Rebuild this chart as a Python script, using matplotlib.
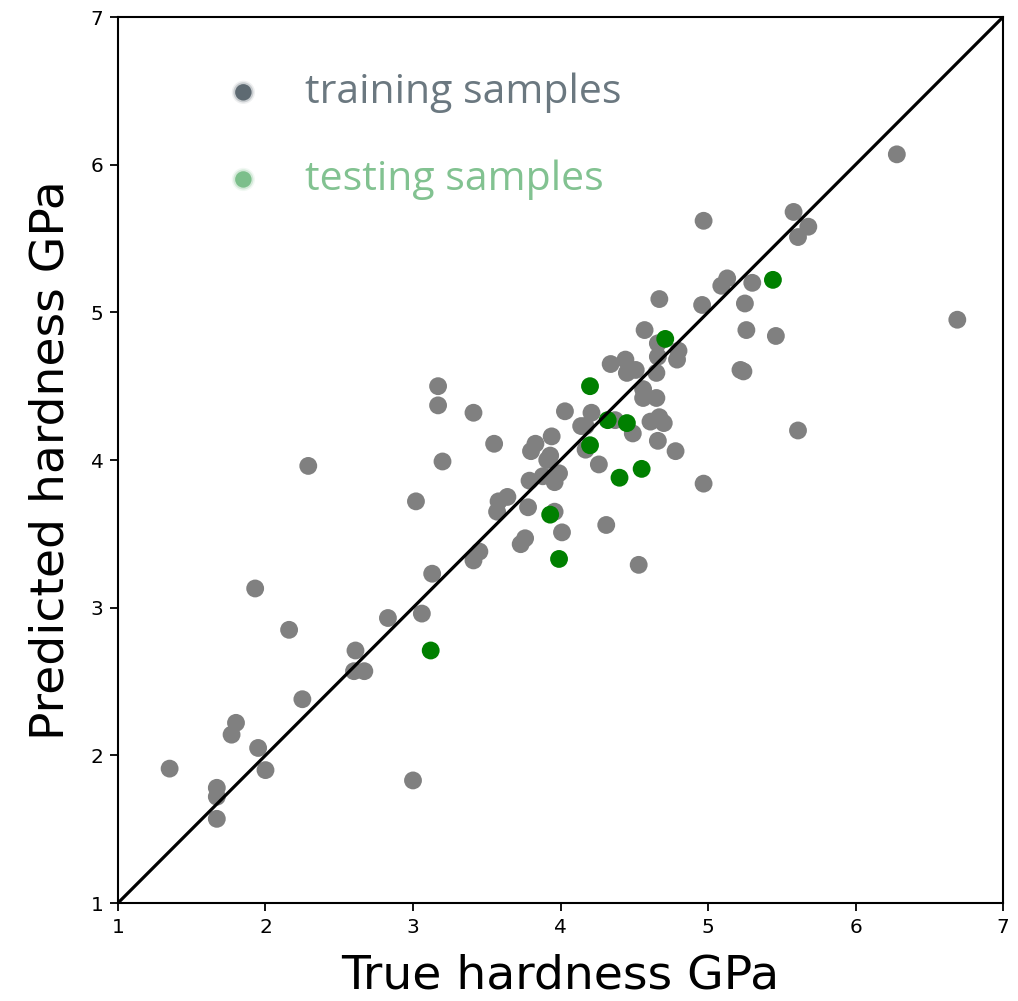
import matplotlib
matplotlib.use("Agg")
import matplotlib.pyplot as plt
import numpy as np

# training set: (true, predicted) hardness in GPa
train_true = [1.35, 1.93, 2.16, 1.80, 1.77, 1.95, 2.00, 1.67, 1.67, 1.67,
              2.25, 2.61, 2.60, 2.67, 2.83, 3.06, 3.13, 3.00, 3.41, 2.29,
              3.02, 3.17, 3.17, 3.20, 3.41, 3.55, 3.45, 3.58, 3.64, 3.57,
              3.78, 3.76, 3.73, 3.79, 3.83, 3.80, 3.94, 3.93, 3.91, 3.99,
              3.96, 3.88, 4.03, 3.96, 4.01, 4.21, 4.17, 4.17, 4.14, 4.26,
              4.37, 4.49, 4.31, 4.53, 4.57, 4.66, 4.66, 4.80, 4.79, 4.34,
              4.44, 4.45, 4.51, 4.65, 4.56, 4.56, 4.65, 4.61, 4.67, 4.70,
              4.66, 4.78, 4.97, 5.22, 4.97, 5.58, 5.68, 5.61, 5.09, 5.13,
              5.30, 4.67, 4.96, 5.25, 5.26, 5.46, 6.69, 5.24, 5.61, 6.28]
train_pred = [1.91, 3.13, 2.85, 2.22, 2.14, 2.05, 1.90, 1.78, 1.72, 1.57,
              2.38, 2.71, 2.57, 2.57, 2.93, 2.96, 3.23, 1.83, 3.32, 3.96,
              3.72, 4.50, 4.37, 3.99, 4.32, 4.11, 3.38, 3.72, 3.75, 3.65,
              3.68, 3.47, 3.43, 3.86, 4.11, 4.06, 4.16, 4.03, 4.00, 3.91,
              3.85, 3.89, 4.33, 3.65, 3.51, 4.32, 4.23, 4.07, 4.23, 3.97,
              4.27, 4.18, 3.56, 3.29, 4.88, 4.79, 4.70, 4.74, 4.68, 4.65,
              4.68, 4.59, 4.61, 4.59, 4.48, 4.42, 4.42, 4.26, 4.29, 4.25,
              4.13, 4.06, 3.84, 4.61, 5.62, 5.68, 5.58, 5.51, 5.18, 5.23,
              5.20, 5.09, 5.05, 5.06, 4.88, 4.84, 4.95, 4.60, 4.20, 6.07]

# testing set
test_true = [3.12, 3.93, 3.99, 4.20, 4.20, 4.32, 4.45, 4.40, 4.55, 4.71, 5.44]
test_pred = [2.71, 3.63, 3.33, 4.10, 4.50, 4.27, 4.25, 3.88, 3.94, 4.82, 5.22]

lims = [1, 7]
ticks = [1, 2, 3, 4, 5, 6, 7]

fig = plt.figure(figsize=(10.18, 10.01), dpi=100)
ax = fig.add_axes([0.1159, 0.0979, 0.8694, 0.8851])

ax.scatter(train_true, train_pred, s=165, c="grey", edgecolors="none", zorder=2)
ax.scatter(test_true, test_pred, s=165, c="green", edgecolors="none", zorder=3)
ax.plot(lims, lims, color="black", lw=2.3, zorder=4)

ax.set_xlim(lims)
ax.set_ylim(lims)
ax.set_xticks(ticks)
ax.set_yticks(ticks)
ax.tick_params(labelsize=14.5, length=5.5, width=1.3, pad=5)
for sp in ax.spines.values():
    sp.set_linewidth(1.5)
ax.set_xlabel("True hardness GPa", fontsize=34, labelpad=12)
ax.set_ylabel("Predicted hardness GPa", fontsize=34, labelpad=12)

# hand-placed key with soft markers
leg_x = 1.85
for y, col in [(6.49, "#5e6a72"), (5.90, "#7cbf8b")]:
    for k, a in zip([2.0, 1.5, 1.0], [0.1, 0.25, 1.0]):
        ax.scatter([leg_x], [y], s=140 * k, c=col, alpha=a, edgecolors="none", zorder=5)
ax.text(2.27, 6.49, "training samples", color="#6b7880", fontsize=29.5,
        family="Open Sans", va="center", ha="left")
ax.text(2.27, 5.90, "testing samples", color="#82c291", fontsize=29.5,
        family="Open Sans", va="center", ha="left")

fig.savefig("out.png", dpi=100)
